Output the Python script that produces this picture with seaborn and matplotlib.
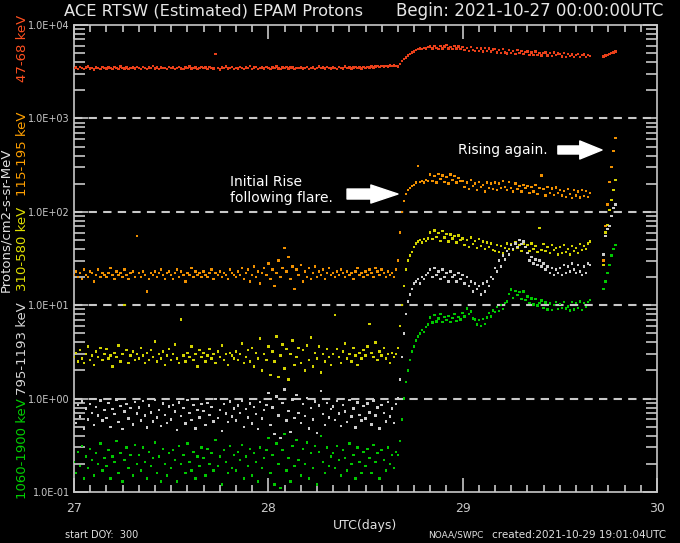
import numpy as np
import pandas as pd
import matplotlib
matplotlib.use("Agg")
import matplotlib.pyplot as plt
import seaborn as sns
from matplotlib.ticker import LogLocator, MultipleLocator, NullFormatter

# ---------------- data ----------------
START_DAY = 27.0          # first sample of the main record
STEP_DAYS = 1.0 / 96.0    # 15-minute cadence
LATE_DAYS = [29.724, 29.734, 29.745, 29.755, 29.766, 29.776, 29.787]

CHANNELS = ["47-68 keV", "115-195 keV", "310-580 keV", "795-1193 keV", "1060-1900 keV"]

P047_068 = [
    3450, 3500, 3400, 3550, 3450, 3380, 3500, 3600, 3420, 3480, 3350, 3520, 3460, 3400, 3550, 3480,
    3420, 3500, 3460, 3380, 3540, 3450, 3400, 3600, 3480, 3430, 3520, 3360, 3470, 3500, 3410, 3560,
    3480, 3400, 3530, 3450, 3380, 3500, 3460, 3620, 3420, 3490, 3360, 3510, 3440, 3480, 3400, 3530,
    3460, 3520, 3400, 3480, 3550, 3430, 3370, 3500, 3460, 3590, 3420, 3480, 3510, 3390, 3470, 3530,
    3440, 3500, 3390, 3560, 3460, 3410, 4900, 3480, 3350, 3500, 3450, 3600, 3420, 3470, 3530, 3400,
    3480, 3420, 3540, 3460, 3380, 3510, 3450, 3650, 3400, 3490, 3530, 3370, 3460, 3500, 3420, 3560,
    3470, 3400, 3520, 3450, 3580, 3430, 3380, 3500, 3460, 3540, 3410, 3490, 3520, 3390, 3480, 3450,
    3500, 3430, 3470, 3550, 3400, 3480, 3520, 3370, 3460, 3600, 3440, 3490, 3410, 3530, 3470, 3420,
    3510, 3460, 3400, 3550, 3480, 3430, 3590, 3470, 3520, 3410, 3490, 3560, 3450, 3500, 3430, 3540,
    3480, 3550, 3500, 3600, 3520, 3580, 3640, 3550, 3620, 3580, 3660, 3600, 3700, 3640, 3680, 3620,
    3600, 3800, 4100, 4300, 4500, 4700, 4900, 5100, 5200, 5400, 5500, 5600, 5500, 5700, 5600, 5800,
    5900, 5600, 6000, 5700, 5500, 6000, 5600, 5900, 6100, 5600, 5800, 5500, 6000, 5600, 5900, 5500,
    5800, 5400, 5700, 5300, 5800, 5400, 5250, 5700, 5300, 5600, 5200, 5700, 5300, 5600, 5200, 5450,
    5500, 5100, 5400, 5000, 5500, 5100, 4950, 5400, 5000, 5300, 4900, 5400, 5000, 5300, 4900, 5150,
    5200, 4800, 5100, 4750, 5200, 4800, 5050, 4700, 5000, 5100, 4700, 5000, 4650, 5100, 4750, 4950,
    4900, 4600, 5000, 4550, 4900, 4650, 4850, 4550, 4800, 4900, 4550, 4750, 4850, 4550, 4800, 4650,
]
P115_195 = [
    21, 23, 20, 22, 19, 24, 21, 20, 23, 22, 18, 21, 24, 20, 22, 21,
    20, 22, 25, 21, 19, 23, 21, 22, 20, 24, 21, 19, 22, 23, 20, 55,
    22, 20, 23, 21, 14, 19, 22, 21, 23, 20, 22, 24, 21, 19, 22, 23,
    21, 19, 22, 24, 20, 23, 21, 18, 22, 21, 25, 20, 23, 21, 22, 20,
    23, 21, 20, 22, 24, 19, 22, 21, 23, 20, 22, 21, 19, 24, 22, 21,
    20, 23, 21, 25, 19, 22, 24, 18, 21, 26, 20, 23, 17, 22, 25, 21,
    28, 19, 24, 16, 22, 30, 20, 25, 41, 23, 33, 19, 26, 15, 24, 21,
    27, 18, 23, 20, 25, 19, 22, 26, 20, 23, 21, 24, 19, 22, 25, 21,
    22, 20, 23, 21, 24, 22, 20, 23, 21, 22, 19, 23, 25, 21, 22, 20,
    23, 21, 24, 22, 20, 25, 23, 21, 24, 22, 20, 23, 21, 22, 20, 24,
    30, 60, 100, 130, 155, 170, 180, 190, 195, 205, 310, 210, 215, 205, 220, 215,
    250, 215, 240, 205, 255, 225, 245, 210, 235, 200, 250, 220, 240, 205, 230, 215,
    215, 185, 205, 175, 220, 190, 200, 170, 210, 185, 195, 165, 205, 180, 200, 175,
    205, 170, 200, 180, 215, 185, 170, 210, 180, 165, 200, 175, 190, 165, 195, 180,
    190, 160, 185, 165, 195, 155, 180, 245, 175, 150, 185, 160, 178, 152, 182, 158,
    172, 150, 168, 145, 175, 155, 140, 170, 150, 165, 142, 172, 148, 166, 145, 160,
]
P310_580 = [
    2.8, 3.1, 2.5, 3.3, 2.7, 2.4, 3.0, 3.6, 2.6, 2.9, 2.3, 3.2, 2.8, 3.5, 2.6, 3.0,
    3.4, 2.7, 2.9, 2.2, 3.1, 2.8, 3.7, 2.5, 3.0, 10.0, 3.3, 2.4, 2.9, 3.2, 2.6, 3.0,
    2.7, 3.5, 2.9, 2.4, 3.1, 2.6, 3.3, 2.8, 4.1, 2.5, 3.0, 2.7, 3.2, 2.3, 2.9, 3.4,
    2.6, 3.0, 3.8, 2.7, 2.4, 7.0, 2.9, 2.5, 3.1, 2.8, 3.6, 2.6, 3.0, 2.2, 3.3, 2.8,
    3.1, 2.5, 2.9, 3.4, 2.7, 3.0, 2.4, 3.2, 2.8, 3.7, 2.6, 3.0, 2.3, 3.1, 2.9, 2.7,
    3.2, 2.6, 3.0, 3.9, 2.4, 2.8, 3.3, 2.5, 3.5, 2.2, 3.1, 2.7, 4.4, 2.0, 3.0, 2.6,
    3.6, 1.8, 3.2, 2.5, 4.6, 1.7, 2.9, 3.8, 2.1, 3.4, 1.6, 3.0, 4.2, 2.3, 2.8, 3.5,
    2.4, 3.3, 2.0, 3.7, 2.6, 4.5, 2.2, 3.1, 2.7, 3.6, 1.9, 3.0, 2.5, 3.4, 2.8, 2.3,
    3.0, 7.8, 3.4, 2.8, 2.4, 3.2, 3.9, 2.7, 3.0, 2.5, 3.5, 2.9, 2.3, 3.1, 2.7, 3.3,
    2.9, 3.6, 6.3, 3.1, 2.8, 4.0, 2.6, 3.2, 2.9, 3.5, 2.7, 3.0, 2.4, 3.1, 2.8, 3.0,
    3.5, 6.0, 10, 16, 24, 30, 34, 37, 42, 46, 48, 50, 47, 51, 49, 52,
    60, 51, 63, 54, 59, 49, 62, 53, 58, 48, 57, 52, 55, 47, 56, 50,
    52, 44, 50, 42, 53, 45, 49, 41, 51, 43, 48, 40, 47, 42, 46, 39,
    38, 44, 37, 43, 36, 41, 46, 40, 45, 39, 47, 41, 44, 38, 46, 42,
    44, 38, 46, 40, 43, 37, 67, 39, 45, 38, 42, 36, 44, 39, 41, 35,
    42, 36, 44, 37, 40, 35, 43, 38, 41, 36, 45, 39, 43, 40, 46, 48,
]
P795_1193 = [
    0.72, 0.55, 0.85, 0.64, 0.93, 0.48, 0.78, 0.60, 0.88, 0.70, 0.52, 0.81, 0.66, 0.95, 0.58, 0.75,
    0.62, 0.90, 0.50, 0.77, 0.68, 0.98, 0.56, 0.83, 0.47, 0.73, 0.87, 0.61, 0.79, 0.53, 0.92, 0.69,
    0.80, 0.58, 0.94, 0.66, 0.49, 0.84, 0.71, 0.57, 0.96, 0.63, 0.76, 0.51, 0.89, 0.67, 0.55, 0.82,
    0.60, 0.86, 0.73, 0.46, 0.91, 0.65, 0.79, 0.54, 0.97, 0.70, 0.59, 0.85, 0.48, 0.76, 0.63, 0.88,
    0.74, 0.52, 0.90, 0.67, 0.81, 0.57, 0.99, 0.62, 0.75, 0.45, 0.87, 0.69, 0.56, 0.93, 0.64, 0.78,
    0.58, 0.84, 0.70, 0.95, 0.50, 0.77, 0.63, 0.89, 0.54, 0.81, 0.68, 0.47, 0.92, 0.61, 0.76, 0.86,
    1.15, 0.52, 0.80, 0.42, 1.05, 0.66, 0.38, 0.90, 1.25, 0.58, 0.74, 0.44, 0.98, 0.62, 1.10, 0.70,
    0.55, 0.88, 0.65, 1.02, 0.48, 0.79, 0.60, 0.93, 0.43, 0.84, 1.20, 0.68, 0.52, 0.90, 0.63, 0.77,
    0.82, 0.59, 0.94, 0.69, 0.51, 0.86, 0.73, 0.56, 0.97, 0.64, 0.78, 0.49, 0.91, 0.67, 0.58, 0.83,
    0.61, 0.89, 0.71, 0.53, 0.95, 0.66, 0.80, 0.48, 0.85, 0.70, 0.57, 0.92, 0.64, 0.78, 0.55, 0.87,
    1.0, 1.6, 2.8, 5, 8, 11, 13, 15, 17, 18, 19, 17, 20, 19, 21, 22,
    24, 20, 25, 21, 23, 19, 24, 20, 22, 18, 23, 20, 21, 18, 22, 19,
    21, 17, 20, 16, 18, 14, 17, 15, 16, 13, 17, 14, 18, 16, 20, 19,
    25, 23, 30, 26, 34, 31, 38, 35, 44, 40, 46, 42, 50, 45, 48, 42,
    36, 30, 33, 28, 31, 27, 30, 26, 28, 24, 26, 22, 25, 21, 24, 22,
    25, 21, 27, 22, 26, 23, 28, 24, 22, 27, 23, 21, 26, 22, 28, 27,
]
P1060_1900 = [
    0.21, 0.16, 0.27, 0.19, 0.31, 0.14, 0.24, 0.18, 0.29, 0.22, 0.15, 0.26, 0.20, 0.33, 0.17, 0.23,
    0.19, 0.28, 0.14, 0.24, 0.21, 0.35, 0.16, 0.26, 0.13, 0.22, 0.30, 0.18, 0.25, 0.15, 0.32, 0.20,
    0.25, 0.17, 0.30, 0.21, 0.14, 0.27, 0.19, 0.23, 0.34, 0.16, 0.24, 0.13, 0.29, 0.20, 0.15, 0.26,
    0.18, 0.28, 0.22, 0.13, 0.31, 0.20, 0.25, 0.16, 0.33, 0.21, 0.17, 0.27, 0.14, 0.24, 0.19, 0.30,
    0.23, 0.15, 0.29, 0.20, 0.26, 0.17, 0.36, 0.19, 0.24, 0.12, 0.28, 0.21, 0.16, 0.31, 0.18, 0.25,
    0.17, 0.27, 0.22, 0.32, 0.14, 0.24, 0.19, 0.29, 0.15, 0.26, 0.21, 0.13, 0.30, 0.18, 0.23, 0.28,
    0.38, 0.16, 0.25, 0.12, 0.33, 0.20, 0.11, 0.28, 0.42, 0.17, 0.23, 0.13, 0.31, 0.19, 0.36, 0.22,
    0.15, 0.29, 0.20, 0.34, 0.14, 0.26, 0.18, 0.31, 0.12, 0.27, 0.40, 0.21, 0.16, 0.30, 0.19, 0.24,
    0.26, 0.18, 0.31, 0.22, 0.15, 0.28, 0.23, 0.17, 0.33, 0.20, 0.25, 0.14, 0.30, 0.21, 0.16, 0.27,
    0.19, 0.29, 0.23, 0.16, 0.32, 0.21, 0.26, 0.14, 0.28, 0.22, 0.17, 0.30, 0.20, 0.25, 0.18, 0.27,
    0.25, 0.35, 0.6, 1.0, 1.5, 2.0, 2.6, 3.2, 3.6, 4.2, 4.6, 5.0, 5.4, 5.2, 5.8, 6.2,
    7.4, 6.5, 7.8, 6.7, 7.2, 8.0, 6.6, 7.5, 6.9, 7.7, 6.6, 7.3, 8.1, 6.8, 7.5, 7.0,
    8.2, 7.6, 9.2, 8.0, 8.6, 7.2, 7.0, 6.2, 6.9, 6.0, 7.1, 6.3, 7.4, 8.2, 7.6, 8.8,
    8.4, 9.6, 8.7, 10.0, 9.1, 10.6, 11.0, 13.2, 14.8, 12.0, 14.2, 12.8, 13.9, 11.6, 14.0, 11.4,
    12.4, 10.6, 11.8, 10.2, 11.6, 9.9, 10.6, 11.2, 9.4, 10.7, 9.0, 10.4, 8.9, 10.0, 10.8, 9.1,
    10.3, 9.3, 10.8, 9.2, 9.7, 8.8, 10.9, 9.0, 10.5, 9.4, 11.0, 8.9, 10.6, 9.5, 10.9, 11.4,
]

LATE_047_068 = [4600, 4700, 4800, 4900, 5000, 5100, 5200]
LATE_115_195 = [30, 70, 120, 210, 300, 450, 620]
LATE_310_580 = [27, 60, 72, 105, 134, 170, 220]
LATE_795_1193 = [35, 55, 65, 70, 90, 110, 120]
LATE_1060_1900 = [15, 18, 22, 27, 34, 40, 44]

XTICKS = [27, 28, 29, 30]
XTICK_LABELS = ["27", "28", "29", "30"]
YTICKS = [1e-1, 1e0, 1e1, 1e2, 1e3, 1e4]
YTICK_LABELS = ["1.0E-01", "1.0E+00", "1.0E+01", "1.0E+02", "1.0E+03", "1.0E+04"]
GRID_LEVELS = [1e0, 1e1, 1e2, 1e3]

# ---------------- styling ----------------
DOT_COLORS = {
    "47-68 keV": "#e8401a",
    "115-195 keV": "#f09000",
    "310-580 keV": "#d2d200",
    "795-1193 keV": "#cccccc",
    "1060-1900 keV": "#00c800",
}
LABEL_COLORS = {
    "47-68 keV": "#ff5020",
    "115-195 keV": "#ffa000",
    "310-580 keV": "#e0e000",
    "795-1193 keV": "#d8d8d8",
    "1060-1900 keV": "#00d000",
}
FG = "#c8c8c8"

plt.rcParams["font.family"] = ["DejaVu Sans"]

main = {
    "47-68 keV": P047_068, "115-195 keV": P115_195, "310-580 keV": P310_580,
    "795-1193 keV": P795_1193, "1060-1900 keV": P1060_1900,
}
late = {
    "47-68 keV": LATE_047_068, "115-195 keV": LATE_115_195, "310-580 keV": LATE_310_580,
    "795-1193 keV": LATE_795_1193, "1060-1900 keV": LATE_1060_1900,
}

frames = []
draw_order = ["47-68 keV", "115-195 keV", "310-580 keV", "1060-1900 keV", "795-1193 keV"]
for ch in draw_order:
    vals = main[ch]
    days = START_DAY + STEP_DAYS * np.arange(len(vals))
    frames.append(pd.DataFrame({"day": days, "flux": vals, "channel": ch}))
    frames.append(pd.DataFrame({"day": LATE_DAYS, "flux": late[ch], "channel": ch}))
df = pd.concat(frames, ignore_index=True)

W, H = 680, 543
fig = plt.figure(figsize=(W / 100, H / 100), dpi=100, facecolor="black")
ax = fig.add_axes([74 / W, 1 - 492 / H, (657 - 74) / W, (492 - 25) / H])
ax.set_facecolor("black")

sns.scatterplot(data=df, x="day", y="flux", hue="channel", palette=DOT_COLORS,
                marker="s", s=3, linewidth=0, legend=False, ax=ax, zorder=3)

ax.set_yscale("log")
ax.set_xlim(XTICKS[0], XTICKS[-1])
ax.set_ylim(YTICKS[0], YTICKS[-1])

for lvl in GRID_LEVELS:
    ax.axhline(lvl, color=FG, lw=1.5, dashes=(4, 3), zorder=2)

ax.set_xticks(XTICKS)
ax.set_xticklabels(XTICK_LABELS)
ax.xaxis.set_minor_locator(MultipleLocator(1 / 12))
ax.set_yticks(YTICKS)
ax.set_yticklabels(YTICK_LABELS)
ax.yaxis.set_minor_locator(LogLocator(base=10, subs=range(2, 10)))
ax.yaxis.set_minor_formatter(NullFormatter())
ax.set_xlabel("")
ax.set_ylabel("")

ax.tick_params(which="both", direction="in", top=True, right=True, colors=FG, width=1.2)
ax.tick_params(axis="x", which="major", length=10, labelsize=9, pad=7)
ax.tick_params(axis="x", which="minor", length=5)
ax.tick_params(axis="y", which="major", length=10, labelsize=7, pad=3)
ax.tick_params(axis="y", which="minor", length=8)
for sp in ax.spines.values():
    sp.set_color(FG)
    sp.set_linewidth(1.2)

# annotations
ax.annotate("", xy=(29.717, 459), xytext=(29.49, 459),
            arrowprops=dict(arrowstyle="simple,head_length=1.6,head_width=1.3,tail_width=0.58",
                            color="white", mutation_scale=10, shrinkA=0, shrinkB=0), zorder=5)
ax.text(28.976, 459, "Rising again.", color="white", fontsize=10, ha="left", va="center", zorder=5)
ax.annotate("", xy=(28.667, 155), xytext=(28.405, 155),
            arrowprops=dict(arrowstyle="simple,head_length=1.95,head_width=1.3,tail_width=0.72",
                            color="white", mutation_scale=10, shrinkA=0, shrinkB=0), zorder=5)
ax.text(27.803, 171, "Initial Rise\nfollowing flare.", color="white", fontsize=10,
        ha="left", va="center", linespacing=1.15, zorder=5)

# frame texts
fig.text(64 / W, 1 - 11 / H, "ACE RTSW (Estimated) EPAM Protons", color="#e6e6e6",
         fontsize=11.7, ha="left", va="center")
fig.text(663 / W, 1 - 11 / H, "Begin: 2021-10-27 00:00:00UTC", color="#e6e6e6",
         fontsize=12, ha="right", va="center")
fig.text(365 / W, 1 - 526 / H, "UTC(days)", color="#e0e0e0", fontsize=9, ha="center", va="center")
fig.text(65 / W, 1 - 535 / H, "start DOY:  300", color="#e0e0e0", fontsize=7, ha="left", va="center")
fig.text(428 / W, 1 - 535 / H, "NOAA/SWPC", color="#e0e0e0", fontsize=6.5, ha="left", va="center")
fig.text(666 / W, 1 - 535 / H, "created:2021-10-29 19:01:04UTC", color="#e0e0e0", fontsize=7.5,
         ha="right", va="center")

fig.text(6 / W, 1 - 220 / H, "Protons/cm2-s-sr-MeV", color="#e0e0e0", fontsize=9.5,
         rotation=90, ha="center", va="center")
label_tops = [15, 112, 207, 302, 398]
for ch, top in zip(CHANNELS, label_tops):
    fig.text(22.5 / W, 1 - top / H, ch, color=LABEL_COLORS[ch], fontsize=9.5,
             rotation=90, ha="center", va="top")

fig.savefig("out.png", dpi=100, facecolor="black")
